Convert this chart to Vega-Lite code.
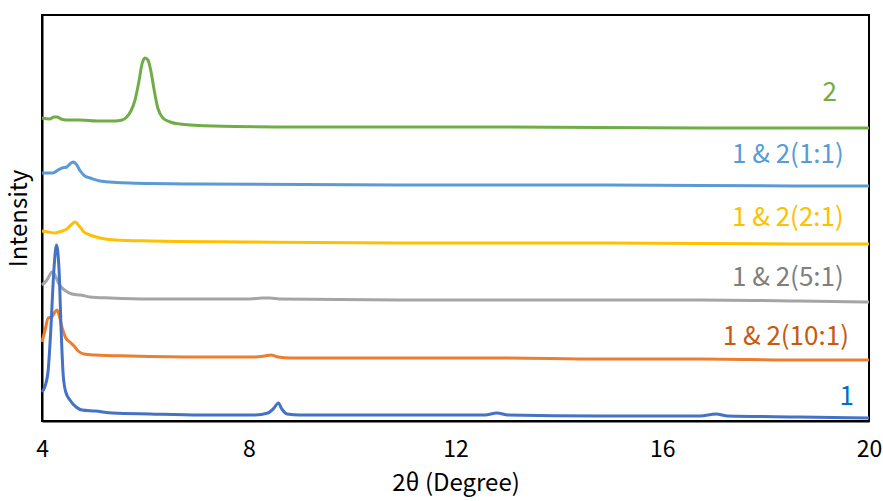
{
  "$schema": "https://vega.github.io/schema/vega-lite/v6.json",
  "width": 827,
  "height": 406,
  "autosize": {"type": "none"},
  "padding": {"left": 42, "top": 15, "right": 14, "bottom": 80},
  "background": "white",
  "config": {
    "font": "Noto Sans CJK SC",
    "view": {"stroke": "black", "strokeWidth": 2},
    "axis": {"grid": false, "ticks": false, "domainColor": "black", "domainWidth": 2}
  },
  "datasets": {
    "curves": [
      {"s": "2", "x": 4.00, "y": 303}, {"s": "2", "x": 4.15, "y": 302}, {"s": "2", "x": 4.23, "y": 304}, {"s": "2", "x": 4.29, "y": 304},
      {"s": "2", "x": 4.37, "y": 302}, {"s": "2", "x": 4.46, "y": 301}, {"s": "2", "x": 4.74, "y": 301}, {"s": "2", "x": 5.06, "y": 300},
      {"s": "2", "x": 5.41, "y": 300}, {"s": "2", "x": 5.55, "y": 301}, {"s": "2", "x": 5.64, "y": 304}, {"s": "2", "x": 5.72, "y": 310},
      {"s": "2", "x": 5.80, "y": 321}, {"s": "2", "x": 5.88, "y": 341}, {"s": "2", "x": 5.93, "y": 356}, {"s": "2", "x": 5.99, "y": 363},
      {"s": "2", "x": 6.05, "y": 361}, {"s": "2", "x": 6.11, "y": 349}, {"s": "2", "x": 6.17, "y": 331}, {"s": "2", "x": 6.24, "y": 313},
      {"s": "2", "x": 6.34, "y": 303}, {"s": "2", "x": 6.48, "y": 299}, {"s": "2", "x": 6.67, "y": 297}, {"s": "2", "x": 7.31, "y": 295},
      {"s": "2", "x": 8.99, "y": 294}, {"s": "2", "x": 12.86, "y": 294}, {"s": "2", "x": 16.73, "y": 293}, {"s": "2", "x": 20.0, "y": 293},

      {"s": "1 & 2(1:1)", "x": 4.00, "y": 248}, {"s": "1 & 2(1:1)", "x": 4.21, "y": 248}, {"s": "1 & 2(1:1)", "x": 4.31, "y": 251},
      {"s": "1 & 2(1:1)", "x": 4.39, "y": 253}, {"s": "1 & 2(1:1)", "x": 4.48, "y": 254}, {"s": "1 & 2(1:1)", "x": 4.54, "y": 257},
      {"s": "1 & 2(1:1)", "x": 4.60, "y": 259}, {"s": "1 & 2(1:1)", "x": 4.66, "y": 257}, {"s": "1 & 2(1:1)", "x": 4.74, "y": 250},
      {"s": "1 & 2(1:1)", "x": 4.83, "y": 245}, {"s": "1 & 2(1:1)", "x": 4.93, "y": 243}, {"s": "1 & 2(1:1)", "x": 5.12, "y": 240},
      {"s": "1 & 2(1:1)", "x": 5.70, "y": 238}, {"s": "1 & 2(1:1)", "x": 7.06, "y": 237}, {"s": "1 & 2(1:1)", "x": 10.93, "y": 236},
      {"s": "1 & 2(1:1)", "x": 14.80, "y": 236}, {"s": "1 & 2(1:1)", "x": 18.66, "y": 235}, {"s": "1 & 2(1:1)", "x": 20.0, "y": 235},

      {"s": "1 & 2(2:1)", "x": 4.00, "y": 190}, {"s": "1 & 2(2:1)", "x": 4.12, "y": 189}, {"s": "1 & 2(2:1)", "x": 4.25, "y": 188},
      {"s": "1 & 2(2:1)", "x": 4.39, "y": 190}, {"s": "1 & 2(2:1)", "x": 4.48, "y": 192}, {"s": "1 & 2(2:1)", "x": 4.56, "y": 196},
      {"s": "1 & 2(2:1)", "x": 4.64, "y": 199}, {"s": "1 & 2(2:1)", "x": 4.72, "y": 195}, {"s": "1 & 2(2:1)", "x": 4.81, "y": 189},
      {"s": "1 & 2(2:1)", "x": 4.93, "y": 186}, {"s": "1 & 2(2:1)", "x": 5.12, "y": 183}, {"s": "1 & 2(2:1)", "x": 5.41, "y": 181},
      {"s": "1 & 2(2:1)", "x": 6.09, "y": 180}, {"s": "1 & 2(2:1)", "x": 8.02, "y": 179}, {"s": "1 & 2(2:1)", "x": 10.93, "y": 178},
      {"s": "1 & 2(2:1)", "x": 14.80, "y": 178}, {"s": "1 & 2(2:1)", "x": 18.66, "y": 177}, {"s": "1 & 2(2:1)", "x": 20.0, "y": 177},

      {"s": "1 & 2(5:1)", "x": 4.00, "y": 136}, {"s": "1 & 2(5:1)", "x": 4.08, "y": 140}, {"s": "1 & 2(5:1)", "x": 4.14, "y": 145},
      {"s": "1 & 2(5:1)", "x": 4.19, "y": 149}, {"s": "1 & 2(5:1)", "x": 4.25, "y": 146}, {"s": "1 & 2(5:1)", "x": 4.31, "y": 139},
      {"s": "1 & 2(5:1)", "x": 4.37, "y": 134}, {"s": "1 & 2(5:1)", "x": 4.46, "y": 130}, {"s": "1 & 2(5:1)", "x": 4.58, "y": 127},
      {"s": "1 & 2(5:1)", "x": 4.74, "y": 126}, {"s": "1 & 2(5:1)", "x": 4.93, "y": 124}, {"s": "1 & 2(5:1)", "x": 5.32, "y": 123},
      {"s": "1 & 2(5:1)", "x": 6.09, "y": 122}, {"s": "1 & 2(5:1)", "x": 8.02, "y": 122}, {"s": "1 & 2(5:1)", "x": 8.26, "y": 123},
      {"s": "1 & 2(5:1)", "x": 8.41, "y": 123}, {"s": "1 & 2(5:1)", "x": 8.60, "y": 122}, {"s": "1 & 2(5:1)", "x": 10.93, "y": 121},
      {"s": "1 & 2(5:1)", "x": 12.86, "y": 121}, {"s": "1 & 2(5:1)", "x": 14.80, "y": 121}, {"s": "1 & 2(5:1)", "x": 16.73, "y": 121},
      {"s": "1 & 2(5:1)", "x": 18.66, "y": 120}, {"s": "1 & 2(5:1)", "x": 20.0, "y": 119},

      {"s": "1 & 2(10:1)", "x": 4.00, "y": 79}, {"s": "1 & 2(10:1)", "x": 4.06, "y": 91}, {"s": "1 & 2(10:1)", "x": 4.12, "y": 103},
      {"s": "1 & 2(10:1)", "x": 4.19, "y": 104}, {"s": "1 & 2(10:1)", "x": 4.25, "y": 109}, {"s": "1 & 2(10:1)", "x": 4.29, "y": 111},
      {"s": "1 & 2(10:1)", "x": 4.33, "y": 106}, {"s": "1 & 2(10:1)", "x": 4.39, "y": 93}, {"s": "1 & 2(10:1)", "x": 4.46, "y": 83},
      {"s": "1 & 2(10:1)", "x": 4.54, "y": 79}, {"s": "1 & 2(10:1)", "x": 4.62, "y": 75}, {"s": "1 & 2(10:1)", "x": 4.70, "y": 70},
      {"s": "1 & 2(10:1)", "x": 4.81, "y": 67}, {"s": "1 & 2(10:1)", "x": 5.03, "y": 66}, {"s": "1 & 2(10:1)", "x": 5.70, "y": 65},
      {"s": "1 & 2(10:1)", "x": 7.06, "y": 64}, {"s": "1 & 2(10:1)", "x": 8.12, "y": 64}, {"s": "1 & 2(10:1)", "x": 8.31, "y": 65},
      {"s": "1 & 2(10:1)", "x": 8.43, "y": 66}, {"s": "1 & 2(10:1)", "x": 8.57, "y": 64}, {"s": "1 & 2(10:1)", "x": 8.80, "y": 63},
      {"s": "1 & 2(10:1)", "x": 10.93, "y": 63}, {"s": "1 & 2(10:1)", "x": 12.86, "y": 63}, {"s": "1 & 2(10:1)", "x": 14.80, "y": 62},
      {"s": "1 & 2(10:1)", "x": 16.73, "y": 62}, {"s": "1 & 2(10:1)", "x": 18.66, "y": 61}, {"s": "1 & 2(10:1)", "x": 20.0, "y": 61},

      {"s": "1", "x": 4.00, "y": 29}, {"s": "1", "x": 4.06, "y": 35}, {"s": "1", "x": 4.12, "y": 51}, {"s": "1", "x": 4.17, "y": 91},
      {"s": "1", "x": 4.23, "y": 151}, {"s": "1", "x": 4.28, "y": 176}, {"s": "1", "x": 4.33, "y": 151}, {"s": "1", "x": 4.37, "y": 91},
      {"s": "1", "x": 4.41, "y": 46}, {"s": "1", "x": 4.46, "y": 29}, {"s": "1", "x": 4.54, "y": 21}, {"s": "1", "x": 4.66, "y": 14},
      {"s": "1", "x": 4.77, "y": 11}, {"s": "1", "x": 5.03, "y": 10}, {"s": "1", "x": 5.37, "y": 8}, {"s": "1", "x": 6.09, "y": 7},
      {"s": "1", "x": 7.06, "y": 6}, {"s": "1", "x": 8.12, "y": 6}, {"s": "1", "x": 8.37, "y": 8}, {"s": "1", "x": 8.49, "y": 13},
      {"s": "1", "x": 8.57, "y": 18}, {"s": "1", "x": 8.64, "y": 12}, {"s": "1", "x": 8.74, "y": 7}, {"s": "1", "x": 8.99, "y": 6},
      {"s": "1", "x": 10.93, "y": 6}, {"s": "1", "x": 12.57, "y": 6}, {"s": "1", "x": 12.80, "y": 8}, {"s": "1", "x": 13.02, "y": 6},
      {"s": "1", "x": 14.80, "y": 5}, {"s": "1", "x": 16.73, "y": 5}, {"s": "1", "x": 17.04, "y": 7}, {"s": "1", "x": 17.27, "y": 5},
      {"s": "1", "x": 18.66, "y": 4}, {"s": "1", "x": 20.0, "y": 3}
    ],
    "labels": [
      {"s": "2", "x": 19.24, "y": 328},
      {"s": "1 & 2(1:1)", "x": 18.43, "y": 266},
      {"s": "1 & 2(2:1)", "x": 18.43, "y": 203},
      {"s": "1 & 2(5:1)", "x": 18.43, "y": 143},
      {"s": "1 & 2(10:1)", "x": 18.39, "y": 84},
      {"s": "1", "x": 19.57, "y": 24}
    ]
  },
  "layer": [
    {
      "data": {"name": "curves"},
      "mark": {"type": "line", "strokeWidth": 3, "interpolate": "monotone"},
      "encoding": {
        "x": {"field": "x", "type": "quantitative",
              "scale": {"domain": [4, 20], "nice": false, "zero": false},
              "axis": {"values": [4, 8, 12, 16, 20], "labelFontSize": 23, "labelColor": "black",
                       "labelBaseline": "alphabetic", "labelPadding": 35, "labelFlush": false,
                       "title": "2θ (Degree)", "titleFontSize": 24, "titleFontWeight": "normal", "titleColor": "black",
                       "titleBaseline": "alphabetic", "titleY": 69}},
        "y": {"field": "y", "type": "quantitative",
              "scale": {"domain": [0, 406], "nice": false, "zero": false},
              "axis": {"labels": false, "title": "Intensity", "titleFontSize": 24, "titleFontWeight": "normal",
                       "titleColor": "black", "titleBaseline": "alphabetic", "titleX": -16}},
        "color": {"field": "s", "type": "nominal", "legend": null,
                  "scale": {"domain": ["2", "1 & 2(1:1)", "1 & 2(2:1)", "1 & 2(5:1)", "1 & 2(10:1)", "1"],
                            "range": ["#70AD47", "#5B9BD5", "#FFC000", "#A5A5A5", "#ED7D31", "#4472C4"]}}
      }
    },
    {
      "data": {"name": "labels"},
      "mark": {"type": "text", "fontSize": 26, "align": "center", "baseline": "middle"},
      "encoding": {
        "x": {"field": "x", "type": "quantitative"},
        "y": {"field": "y", "type": "quantitative"},
        "text": {"field": "s"},
        "color": {"field": "s", "type": "nominal", "legend": null,
                  "scale": {"domain": ["2", "1 & 2(1:1)", "1 & 2(2:1)", "1 & 2(5:1)", "1 & 2(10:1)", "1"],
                            "range": ["#70AD47", "#5B9BD5", "#FFC000", "#7F7F7F", "#C55A11", "#0070C0"]}}
      }
    }
  ],
  "resolve": {"scale": {"color": "independent"}}
}
